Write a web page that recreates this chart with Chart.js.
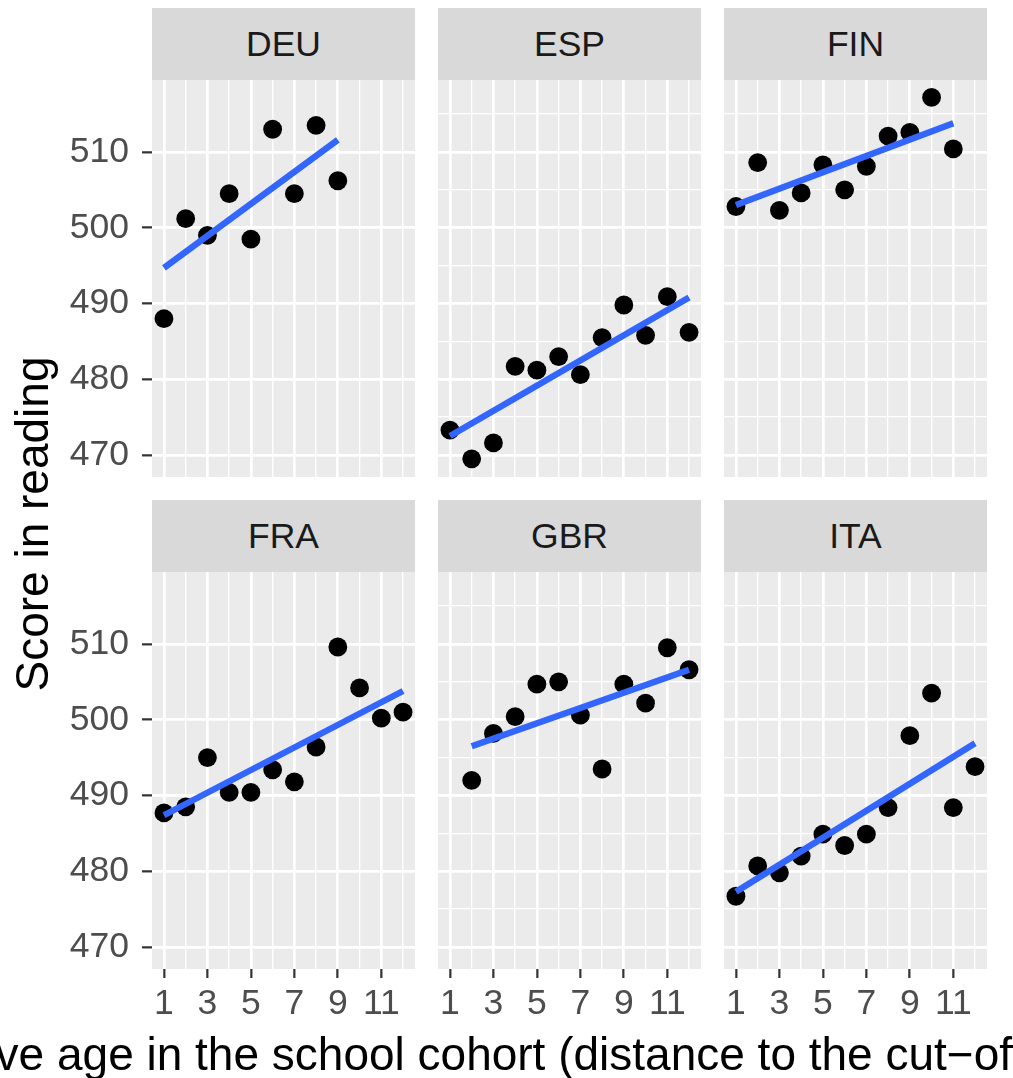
<!DOCTYPE html>
<html>
<head>
<meta charset="utf-8">
<script src="https://cdn.jsdelivr.net/npm/chart.js@4.4.1/dist/chart.umd.min.js"></script>
<style>
  body { margin: 0; width: 1013px; height: 1078px; overflow: hidden; background: #fff; position: relative;
         font-family: "Liberation Sans", Arial, sans-serif; }
  canvas { position: absolute; }
  .strip { position: absolute; width: 263px; height: 72px; line-height: 72px; background: #d9d9d9;
           color: #1a1a1a; font-size: 35.5px; text-align: center; }
  .ytitle { position: absolute; width: 800px; height: 46px; line-height: 46px; left: -368px; top: 501px;
            font-size: 46px; color: #000; text-align: center; transform: rotate(-90deg); white-space: nowrap; }
  .xtitle { position: absolute; left: -122px; top: 1031px; height: 46px; line-height: 46px;
            font-size: 46px; color: #000; white-space: nowrap; }
</style>
</head>
<body>
<div class="ytitle">Score in reading</div>
<div class="xtitle">Relative age in the school cohort (distance to the cut−off date)</div>
<script>
"use strict";

const countries = ["DEU", "ESP", "FIN", "FRA", "GBR", "ITA"];
const monthTicks = [1, 2, 3, 4, 5, 6, 7, 8, 9, 10, 11, 12];
const monthLabels = [1, 3, 5, 7, 9, 11];
const scoreTicks = [470, 475, 480, 485, 490, 495, 500, 505, 510, 515];
const scoreLabels = [470, 480, 490, 500, 510];

const deuMonths = [1, 2, 3, 4, 5, 6, 7, 8, 9];
const deuScores = [488.0, 501.2, 499.0, 504.5, 498.5, 513.0, 504.5, 513.5, 506.2];
const espMonths = [1, 2, 3, 4, 5, 6, 7, 8, 9, 10, 11, 12];
const espScores = [473.3, 469.5, 471.6, 481.7, 481.2, 483.0, 480.6, 485.5, 489.8, 485.8, 490.9, 486.2];
const finMonths = [1, 2, 3, 4, 5, 6, 7, 8, 9, 10, 11];
const finScores = [502.8, 508.6, 502.3, 504.6, 508.3, 505.0, 508.1, 512.1, 512.6, 517.2, 510.4];
const fraMonths = [1, 2, 3, 4, 5, 6, 7, 8, 9, 10, 11, 12];
const fraScores = [487.7, 488.5, 495.0, 490.4, 490.4, 493.4, 491.8, 496.4, 509.6, 504.2, 500.2, 501.0];
const gbrMonths = [2, 3, 4, 5, 6, 7, 8, 9, 10, 11, 12];
const gbrScores = [492.0, 498.2, 500.4, 504.7, 505.0, 500.6, 493.5, 504.7, 502.2, 509.5, 506.6];
const itaMonths = [1, 2, 3, 4, 5, 6, 7, 8, 9, 10, 11, 12];
const itaScores = [476.7, 480.7, 479.8, 482.0, 484.9, 483.4, 484.9, 488.4, 497.9, 503.5, 488.4, 493.8];

// ends of the fitted lines
const fitMonths = [[1, 9], [1, 12], [1, 11], [1, 12], [2, 12], [1, 12]];
const fitScores = [[494.7, 511.6], [472.5, 490.8], [503.0, 513.8], [487.4, 503.8], [496.5, 506.6], [477.3, 496.9]];

const allMonths = [deuMonths, espMonths, finMonths, fraMonths, gbrMonths, itaMonths];
const allScores = [deuScores, espScores, finScores, fraScores, gbrScores, itaScores];

const panelW = 263, panelH = 397, stripH = 72;
const colLeft = [152, 438, 724];
const rowTop = [80, 572];
const yAxisW = 152, xAxisH = 70;
const fontFamily = '"Liberation Sans", Arial, sans-serif';

Chart.defaults.font.family = fontFamily;

const panelBackground = {
    id: "panelBackground",
    beforeDraw(chart) {
        const {ctx, chartArea} = chart;
        ctx.save();
        ctx.fillStyle = "#ebebeb";
        ctx.fillRect(chartArea.left, chartArea.top, chartArea.width, chartArea.height);
        ctx.restore();
    }
};

function isIn(list) {
    return ctx => ctx.tick !== undefined && list.includes(ctx.tick.value);
}

function getX(showAxis) {
    const major = isIn(monthLabels);
    return {
        type: "linear",
        min: 0.45,
        max: 12.55,
        border: {display: false},
        afterBuildTicks: scale => { scale.ticks = monthTicks.map(v => ({value: v})); },
        afterFit: scale => {
            scale.height = showAxis ? xAxisH : 0;
            scale.paddingLeft = 0;
            scale.paddingRight = 0;
        },
        grid: {
            color: "#ffffff",
            lineWidth: ctx => major(ctx) ? 2.7 : 1.35,
            drawTicks: showAxis,
            tickLength: 9,
            tickWidth: 2.2,
            tickColor: ctx => major(ctx) ? "#333333" : "rgba(0,0,0,0)"
        },
        ticks: {
            display: showAxis,
            autoSkip: false,
            maxRotation: 0,
            padding: 5,
            color: "#4d4d4d",
            font: {size: 35.5},
            callback: value => monthLabels.includes(value) ? String(value) : ""
        }
    };
}

function getY(showAxis) {
    const major = isIn(scoreLabels);
    return {
        type: "linear",
        min: 467.1,
        max: 519.5,
        border: {display: false},
        afterBuildTicks: scale => { scale.ticks = scoreTicks.map(v => ({value: v})); },
        afterFit: scale => {
            scale.width = showAxis ? yAxisW : 0;
            scale.paddingTop = 0;
            scale.paddingBottom = 0;
        },
        grid: {
            color: "#ffffff",
            lineWidth: ctx => major(ctx) ? 2.7 : 1.35,
            drawTicks: showAxis,
            tickLength: 10,
            tickWidth: 2.2,
            tickColor: ctx => major(ctx) ? "#333333" : "rgba(0,0,0,0)"
        },
        ticks: {
            display: showAxis,
            padding: 13,
            color: "#4d4d4d",
            font: {size: 35.5},
            callback: value => scoreLabels.includes(value) ? String(value) : ""
        }
    };
}

function buildData(index) {
    const months = allMonths[index];
    const scores = allScores[index];
    return {
        datasets: [
            {
                type: "line",
                data: fitMonths[index].map((m, k) => ({x: m, y: fitScores[index][k]})),
                borderColor: "#3366ff",
                borderWidth: 6.3,
                borderCapStyle: "butt",
                pointRadius: 0,
                fill: false,
                order: 1
            },
            {
                type: "scatter",
                data: months.map((m, k) => ({x: m, y: scores[k]})),
                backgroundColor: "#000000",
                borderWidth: 0,
                pointRadius: 9.4,
                order: 2
            }
        ]
    };
}

function buildPanel(name, index) {
    const col = index % 3;
    const row = Math.floor(index / 3);
    const hasY = col === 0;
    const hasX = row === 1;

    const strip = document.createElement("div");
    strip.className = "strip";
    strip.textContent = name;
    strip.style.left = colLeft[col] + "px";
    strip.style.top = (rowTop[row] - stripH) + "px";
    document.body.appendChild(strip);

    const canvas = document.createElement("canvas");
    const w = panelW + (hasY ? yAxisW : 0);
    const h = panelH + (hasX ? xAxisH : 0);
    canvas.width = w;
    canvas.height = h;
    canvas.style.width = w + "px";
    canvas.style.height = h + "px";
    canvas.style.left = (colLeft[col] - (hasY ? yAxisW : 0)) + "px";
    canvas.style.top = rowTop[row] + "px";
    document.body.insertBefore(canvas, document.body.firstChild);

    new Chart(canvas, {
        type: "scatter",
        data: buildData(index),
        options: {
            responsive: false,
            animation: false,
            events: [],
            layout: {padding: 0, autoPadding: false},
            scales: {x: getX(hasX), y: getY(hasY)},
            plugins: {legend: {display: false}, tooltip: {enabled: false}}
        },
        plugins: [panelBackground]
    });
}

countries.forEach(buildPanel);
</script>
</body>
</html>
